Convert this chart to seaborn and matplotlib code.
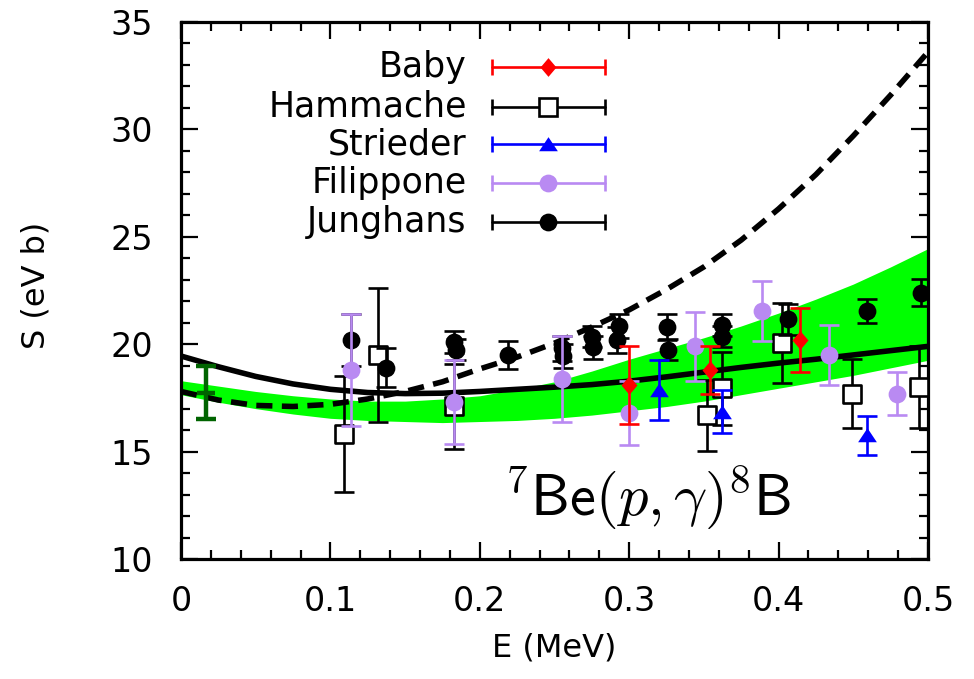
import numpy as np
import pandas as pd
import matplotlib
matplotlib.use("Agg")
import matplotlib.pyplot as plt
from matplotlib.ticker import MultipleLocator, FuncFormatter
import seaborn as sns

# ---------------- data ----------------
curve_E = [0.0, 0.025, 0.05, 0.075, 0.1, 0.125, 0.15, 0.175, 0.2, 0.225, 0.25,
           0.275, 0.3, 0.325, 0.35, 0.375, 0.4, 0.425, 0.45, 0.475, 0.5]
solid_S = [19.45, 18.95, 18.5, 18.15, 17.9, 17.75, 17.7, 17.72, 17.8, 17.9, 18.0,
           18.12, 18.28, 18.48, 18.7, 18.92, 19.12, 19.3, 19.5, 19.7, 19.9]
dashed_S = [17.8, 17.4, 17.15, 17.1, 17.2, 17.45, 17.8, 18.25, 18.85, 19.4, 20.05,
            20.8, 21.6, 22.55, 23.6, 24.85, 26.3, 27.9, 29.7, 31.6, 33.6]
band_low = [17.65, 17.3, 17.0, 16.75, 16.55, 16.45, 16.4, 16.35, 16.4, 16.45, 16.55,
            16.7, 16.9, 17.1, 17.35, 17.65, 17.95, 18.25, 18.55, 18.9, 19.25]
band_high = [18.3, 18.05, 17.8, 17.6, 17.45, 17.35, 17.35, 17.45, 17.6, 17.9, 18.25,
             18.75, 19.3, 19.8, 20.3, 20.85, 21.45, 22.1, 22.8, 23.6, 24.45]

baby_E = [0.300, 0.354, 0.414]
baby_S = [18.1, 18.8, 20.2]
baby_err = [1.8, 1.1, 1.5]

hammache_E = [0.109, 0.132, 0.183, 0.352, 0.362, 0.402, 0.449, 0.494]
hammache_S = [15.8, 19.5, 17.1, 16.7, 17.95, 20.05, 17.7, 18.0]
hammache_err = [2.7, 3.1, 2.0, 1.65, 1.7, 1.85, 1.6, 1.9]

strieder_E = [0.320, 0.362, 0.459]
strieder_S = [17.85, 16.85, 15.75]
strieder_err = [1.4, 1.0, 0.9]

filippone_E = [0.114, 0.183, 0.255, 0.300, 0.344, 0.389, 0.434, 0.479]
filippone_S = [18.8, 17.3, 18.4, 16.8, 19.9, 21.55, 19.5, 17.7]
filippone_err = [2.6, 1.95, 2.0, 1.5, 1.6, 1.4, 1.4, 1.0]

junghans_E = [0.114, 0.1375, 0.183, 0.184, 0.219, 0.255, 0.256, 0.275, 0.276,
              0.293, 0.292, 0.325, 0.326, 0.362, 0.362, 0.406, 0.459, 0.495]
junghans_S = [20.2, 18.9, 20.1, 19.75, 19.5, 19.8, 19.45, 20.35, 19.85,
              20.85, 20.2, 20.8, 19.75, 20.9, 20.35, 21.15, 21.55, 22.4]
junghans_err = [1.2, 0.9, 0.5, 0.5, 0.65, 0.6, 0.55, 0.5, 0.55,
                0.55, 0.6, 0.6, 0.5, 0.5, 0.5, 0.7, 0.55, 0.62]

zero_E = [0.017]
zero_S = [17.75]
zero_err = [1.25]

series_names = ["Baby", "Hammache", "Strieder", "Filippone", "Junghans"]
x_ticks = [0, 0.1, 0.2, 0.3, 0.4, 0.5]
y_ticks = [10, 15, 20, 25, 30, 35]

# ---------------- style ----------------
sns.set_theme(style="ticks")
plt.rcParams["font.family"] = ["DejaVu Sans"]
plt.rcParams["mathtext.fontset"] = "cm"
for k in ["text.color", "axes.labelcolor", "xtick.color", "ytick.color",
          "axes.edgecolor"]:
    plt.rcParams[k] = "black"

FS = 24
fig = plt.figure(figsize=(9.74, 6.79), dpi=100)
ax = fig.add_axes([181 / 974, 1 - 559 / 679, 747 / 974, 537 / 679])

curves = pd.DataFrame({"E": curve_E, "solid": solid_S, "dashed": dashed_S,
                       "low": band_low, "high": band_high})

# green band
ax.fill_between(curves["E"], curves["low"], curves["high"], color="#00ff00",
                linewidth=0, zorder=1)

# curves
sns.lineplot(data=curves, x="E", y="solid", ax=ax, color="black", lw=4.0,
             zorder=3, sort=False)
sns.lineplot(data=curves, x="E", y="dashed", ax=ax, color="black", lw=4.0,
             zorder=3, sort=False)
ax.lines[-1].set_dashes([2.9, 1.7])

tri = [(-1, -0.72), (1, -0.72), (0, 0.78)]
dia = [(0, 1), (0.85, 0), (0, -1), (-0.85, 0)]
styles = {
    "Baby": dict(color="#ff0000", marker=dia, ms=13.5, face="#ff0000"),
    "Hammache": dict(color="black", marker="s", ms=13, face="white"),
    "Strieder": dict(color="#0000ff", marker=tri, ms=13.5, face="#0000ff"),
    "Filippone": dict(color="#b98af2", marker="o", ms=12.8, face="#b98af2"),
    "Junghans": dict(color="black", marker="o", ms=12.8, face="black"),
}
data = {
    "Baby": (baby_E, baby_S, baby_err),
    "Hammache": (hammache_E, hammache_S, hammache_err),
    "Strieder": (strieder_E, strieder_S, strieder_err),
    "Filippone": (filippone_E, filippone_S, filippone_err),
    "Junghans": (junghans_E, junghans_S, junghans_err),
}

z = 4
for name in ["Hammache", "Junghans", "Filippone", "Strieder", "Baby"]:
    E, S, err = data[name]
    st = styles[name]
    ax.errorbar(E, S, yerr=err, fmt="none", ecolor=st["color"], elinewidth=1.9,
                capsize=7, capthick=1.9, zorder=z)
    df = pd.DataFrame({"E": E, "S": S})
    ew = 1.9 if name == "Hammache" else 0
    sns.scatterplot(data=df, x="E", y="S", ax=ax, marker=st["marker"],
                    s=st["ms"] ** 2, color=st["face"], edgecolor=st["color"],
                    linewidth=ew, zorder=z + 0.5, legend=False)
    z += 1

# extrapolated S(0)
ax.errorbar(zero_E, zero_S, yerr=zero_err, fmt="_", color="#006400", ms=13,
            mew=3.2, elinewidth=3.2, capsize=7, capthick=3.2, zorder=12)

# axes
ax.set_xlim(0, 0.5)
ax.set_ylim(10, 35)
ax.xaxis.set_major_locator(MultipleLocator(0.1))
ax.xaxis.set_minor_locator(MultipleLocator(0.02))
ax.yaxis.set_major_locator(MultipleLocator(5))
ax.yaxis.set_minor_locator(MultipleLocator(1))
ax.set_xticks(x_ticks)
ax.set_yticks(y_ticks)
ax.xaxis.set_major_formatter(FuncFormatter(lambda v, p: "0" if abs(v) < 1e-9 else f"{v:g}"))
ax.yaxis.set_major_formatter(FuncFormatter(lambda v, p: f"{v:g}"))
ax.tick_params(which="both", direction="in", top=True, right=True, width=1.6,
               colors="black", labelsize=FS)
ax.tick_params(which="major", length=12)
ax.tick_params(which="minor", length=6.5)
ax.tick_params(axis="y", which="major", pad=20)
ax.tick_params(axis="x", which="major", pad=19)
for sp in ax.spines.values():
    sp.set_visible(True)
    sp.set_linewidth(2.3)
    sp.set_color("black")

ax.set_xlabel("E (MeV)", fontsize=FS - 1)
ax.set_ylabel("S (eV b)", fontsize=FS - 1)
ax.xaxis.set_label_coords(0.5, -0.136)
ax.yaxis.set_label_coords(-0.173, 0.51)

# legend (gnuplot-style)
rows_y = [0.9168, 0.8423, 0.7728, 0.7007, 0.6281]
tx, x1, x2, xm = 0.3825, 0.416, 0.5676, 0.4917
for name, yy in zip(series_names, rows_y):
    st = styles[name]
    ax.text(tx, yy, name, transform=ax.transAxes, ha="right", va="center",
            fontsize=FS + 1, zorder=20)
    ax.plot([x1, x2], [yy, yy], transform=ax.transAxes, color=st["color"],
            lw=1.9, zorder=20, clip_on=False)
    ax.plot([x1, x2], [yy, yy], transform=ax.transAxes, ls="none", marker="|",
            ms=12, mew=1.9, color=st["color"], zorder=20, clip_on=False)
    ax.plot([xm], [yy], transform=ax.transAxes, ls="none", marker=st["marker"],
            ms=st["ms"], mfc=st["face"], mec=st["color"],
            mew=(1.9 if name == "Hammache" else 0), zorder=21, clip_on=False)

ax.text(0.624, 0.115, r"$^{\mathsf{7}}\mathsf{Be}(p,\gamma)^{\mathsf{8}}\mathsf{B}$",
        transform=ax.transAxes, ha="center", va="center", fontsize=42, zorder=20)

fig.savefig("out.png", dpi=100)
